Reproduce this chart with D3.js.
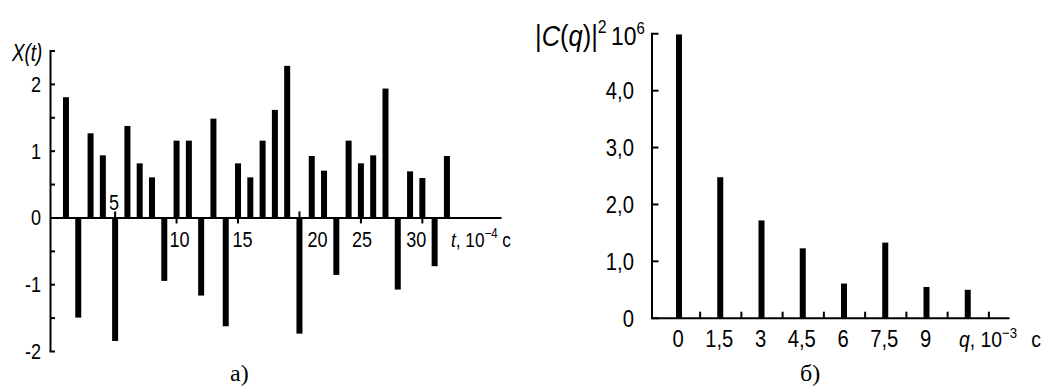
<!DOCTYPE html>
<html><head><meta charset="utf-8">
<script src="https://cdn.jsdelivr.net/npm/d3@7/dist/d3.min.js"></script>
<style>
body{margin:0;background:#fff}
svg text{font-family:"Liberation Sans",Arial,sans-serif;fill:#000}
svg text.serif{font-family:"Liberation Serif","Times New Roman",serif}
</style>
</head><body><svg id="c" width="1046" height="387"></svg>
<script>
// ---- data: panel a ----
const tValues = [1,2,3,4,5,6,7,8,9,10,11,12,13,14,15,16,17,18,19,20,21,22,23,24,25,26,27,28,29,30,31,32];
const xSeries = [1.8,-1.5,1.26,0.93,-1.85,1.37,0.81,0.6,-0.95,1.15,1.15,-1.17,1.48,-1.63,0.81,0.6,1.15,1.61,2.27,-1.74,0.92,0.7,-0.86,1.15,0.81,0.93,1.93,-1.08,0.69,0.59,-0.73,0.92];
const leftYTicks = [-2,-1,0,1,2];
const leftYLabels = ["-2","-1","0","1","2"];
const leftYMinor = [-1.5,-1,-0.5,0.5,1,1.5,2];
const leftXTicks = [5,10,15,20,25,30];
const leftXLabels = ["5","10","15","20","25","30"];
// ---- data: panel b ----
const qValues = [0,1.5,3,4.5,6,7.5,9,10.5];
const cSeries = [4.98,2.47,1.71,1.22,0.60,1.32,0.54,0.49];
const rightYTicks = [0,1,2,3,4];
const rightYLabels = ["0","1,0","2,0","3,0","4,0"];
const rightXTicks = [0,1.5,3,4.5,6,7.5,9];
const rightXLabels = ["0","1,5","3","4,5","6","7,5","9"];
const rightXMinor = [0.75,2.25,3.75,5.25,6.75,8.25,9.75,11.25];

const svg = d3.select("#c");
const trA = (x, y) => `translate(${x},${y}) scale(0.82,1)`;
const trB = (x, y) => `translate(${x},${y}) scale(0.88,1)`;
function T(g, tr, x, y, size, anchor) {
  return g.append("text").attr("transform", tr(x, y)).attr("font-size", size)
    .attr("text-anchor", anchor || "start");
}

// ================= panel a =================
const xL = d3.scaleLinear().domain([-0.3, 36.4]).range([50, 501]);
const yL = d3.scaleLinear().domain([-2, 2.5]).range([351, 50.5]);
const gA = svg.append("g");

gA.selectAll("rect.bar").data(tValues).join("rect")
  .attr("x", (t) => xL(t) - 3)
  .attr("width", 6)
  .attr("y", (t, i) => yL(Math.max(0, xSeries[i])))
  .attr("height", (t, i) => Math.abs(yL(xSeries[i]) - yL(0)))
  .attr("fill", "#000");

const axA = gA.append("g").attr("transform", `translate(${xL(-0.3)},0)`)
  .call(d3.axisRight(yL).tickValues(leftYMinor).tickSizeInner(5).tickSizeOuter(5).tickFormat(""));
axA.selectAll("path,line").attr("stroke", "#000").attr("stroke-width", 2);

const axAx = gA.append("g").attr("transform", `translate(0,${yL(0)})`)
  .call(d3.axisBottom(xL).tickValues([]).tickSizeOuter(0));
axAx.selectAll("path").attr("stroke", "#000").attr("stroke-width", 2);

// x ticks: drawn upward where a negative bar hangs below them
gA.selectAll("line.xt").data(leftXTicks).join("line")
  .attr("x1", (t) => xL(t)).attr("x2", (t) => xL(t))
  .attr("y1", yL(0))
  .attr("y2", (t) => xSeries[tValues.indexOf(t)] < 0 ? yL(0) - 6 : yL(0) + 6)
  .attr("stroke", "#000").attr("stroke-width", 2);

const labelDx = [-1, 3, 4.5, 18, 1, -6];
const labelAbove = [true, false, false, false, false, false];
gA.selectAll("text.xl").data(leftXTicks).join("text")
  .attr("transform", (t, i) => trA(xL(t) + labelDx[i], labelAbove[i] ? yL(0) - 7 : 247))
  .attr("text-anchor", "middle").attr("font-size", 22)
  .text((t, i) => leftXLabels[i]);

gA.selectAll("text.yl").data(leftYTicks).join("text")
  .attr("transform", (v) => trA(41, yL(v) + 8))
  .attr("text-anchor", "end").attr("font-size", 22)
  .text((v, i) => leftYLabels[i]);

T(gA, trA, 12, 61, 23).attr("font-style", "italic").text("X(t)");

const tl = T(gA, trA, 451, 247, 21);
tl.append("tspan").attr("font-style", "italic").text("t");
tl.append("tspan").text(", 10");
tl.append("tspan").attr("font-size", 14).attr("dy", -9).text("\u22124");
tl.append("tspan").attr("dy", 9).text(" c");

gA.append("text").attr("class", "serif").attr("x", 230).attr("y", 381)
  .attr("font-size", 24).text("а)");

// ================= panel b =================
const xR = d3.scaleLinear().domain([-1, 12]).range([651.5, 1009]);
const yR = d3.scaleLinear().domain([0, 5]).range([317.7, 33.3]);
const gB = svg.append("g");

gB.selectAll("rect.bar").data(qValues).join("rect")
  .attr("x", (q) => xR(q) - 3)
  .attr("width", 6)
  .attr("y", (q, i) => yR(cSeries[i]))
  .attr("height", (q, i) => yR(0) - yR(cSeries[i]))
  .attr("fill", "#000");

const axB = gB.append("g").attr("transform", `translate(${xR(-1)},0)`)
  .call(d3.axisRight(yR).tickValues([1, 2, 3, 4]).tickSizeInner(7).tickSizeOuter(7).tickFormat(""));
axB.selectAll("path,line").attr("stroke", "#000").attr("stroke-width", 2);

const axBx = gB.append("g").attr("transform", `translate(0,${yR(0)})`)
  .call(d3.axisTop(xR).tickValues(rightXTicks.concat(rightXMinor)).tickSizeInner(6).tickSizeOuter(0).tickFormat(""));
axBx.selectAll("path,line").attr("stroke", "#000").attr("stroke-width", 2);

gB.selectAll("text.yl").data(rightYTicks).join("text")
  .attr("transform", (v) => trB(634, yR(v) + 9))
  .attr("text-anchor", "end").attr("font-size", 23)
  .text((v, i) => rightYLabels[i]);

gB.selectAll("text.xl").data(rightXTicks).join("text")
  .attr("transform", (q) => trB(xR(q) - 1, 347))
  .attr("text-anchor", "middle").attr("font-size", 23)
  .text((q, i) => rightXLabels[i]);

const ql = T(gB, trB, 959, 347, 22);
ql.append("tspan").attr("font-style", "italic").text("q");
ql.append("tspan").text(", 10");
ql.append("tspan").attr("font-size", 15).attr("dy", -9).text("\u22123");
ql.append("tspan").attr("dy", 9).attr("dx", 10).text(" c");

const cl = T(gB, trB, 535, 46, 29);
cl.append("tspan").text("|");
cl.append("tspan").attr("font-style", "italic").text("C");
cl.append("tspan").text("(");
cl.append("tspan").attr("font-style", "italic").text("q");
cl.append("tspan").text(")|");
cl.append("tspan").attr("font-size", 18).attr("dy", -13).text("2");

const ul = T(gB, trB, 611, 45, 26);
ul.append("tspan").text("10");
ul.append("tspan").attr("font-size", 17).attr("dy", -11).text("6");

gB.append("text").attr("class", "serif").attr("x", 800).attr("y", 381)
  .attr("font-size", 24).text("б)");
</script>
</body></html>
